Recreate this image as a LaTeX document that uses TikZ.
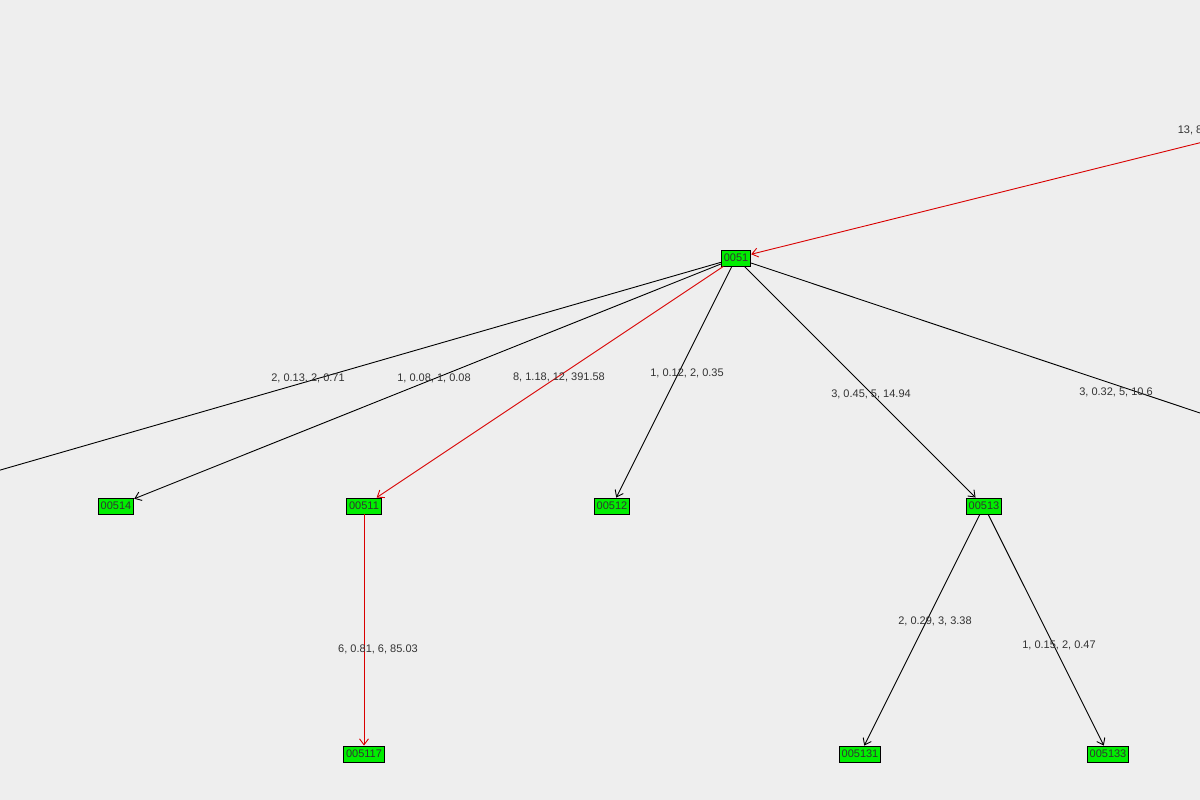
\documentclass[tikz,border=0pt]{standalone}
\usepackage{fontspec}
\setmainfont{Liberation Sans}
\usetikzlibrary{arrows.meta}
\definecolor{bg}{RGB}{238,238,238}
\definecolor{ng}{RGB}{0,238,0}
\begin{document}
\begin{tikzpicture}[x=1pt,y=-1pt,line width=0.9pt,
  nd/.style={draw=black,fill=ng,inner xsep=2.5pt,inner ysep=1pt,minimum height=16pt,font=\fontsize{11}{12}\selectfont,text=black!80},
  lb/.style={font=\fontsize{11}{12}\selectfont,text=black!80},
  ed/.style={draw=black,-{Straight Barb[length=6pt,width=9pt]}},
  re/.style={draw=red!85!black,-{Straight Barb[length=6pt,width=9pt]}}]
\fill[bg] (0,0) rectangle (1200,800);
\useasboundingbox (0,0) rectangle (1200,800);
\clip (0,0) rectangle (1200,800);
\node[nd] (n0051) at (736,258) {0051};
\node[nd] (n00514) at (116,506) {00514};
\node[nd] (n00511) at (364,506) {00511};
\node[nd] (n00512) at (612,506) {00512};
\node[nd] (n00513) at (984,506) {00513};
\node[nd] (n005117) at (364,754) {005117};
\node[nd] (n005131) at (860,754) {005131};
\node[nd] (n005133) at (1108,754) {005133};
\coordinate (L) at (-10,473);
\coordinate (R) at (1215,418);
\coordinate (T) at (1215,139);
\draw[re] (T) -- (n0051);
\draw[black] (n0051) -- (L);
\draw[black] (n0051) -- (R);
\draw[ed] (n0051) -- (n00514);
\draw[re] (n0051) -- (n00511);
\draw[ed] (n0051) -- (n00512);
\draw[ed] (n0051) -- (n00513);
\draw[re] (n00511) -- (n005117);
\draw[ed] (n00513) -- (n005131);
\draw[ed] (n00513) -- (n005133);
\node[lb,anchor=west] (t0) at (1174,130) {13, 8};
\node[lb] (t1) at (308,378) {2, 0.13, 2, 0.71};
\node[lb] (t2) at (434,378) {1, 0.08, 1, 0.08};
\node[lb] (t3) at (559,377) {8, 1.18, 12, 391.58};
\node[lb] (t4) at (687,373) {1, 0.12, 2, 0.35};
\node[lb] (t5) at (871,394) {3, 0.45, 5, 14.94};
\node[lb] (t6) at (1116,392) {3, 0.32, 5, 10.6};
\node[lb] (t7) at (378,649) {6, 0.81, 6, 85.03};
\node[lb] (t8) at (935,621) {2, 0.29, 3, 3.38};
\node[lb] (t9) at (1059,645) {1, 0.15, 2, 0.47};
\end{tikzpicture}
\end{document}
